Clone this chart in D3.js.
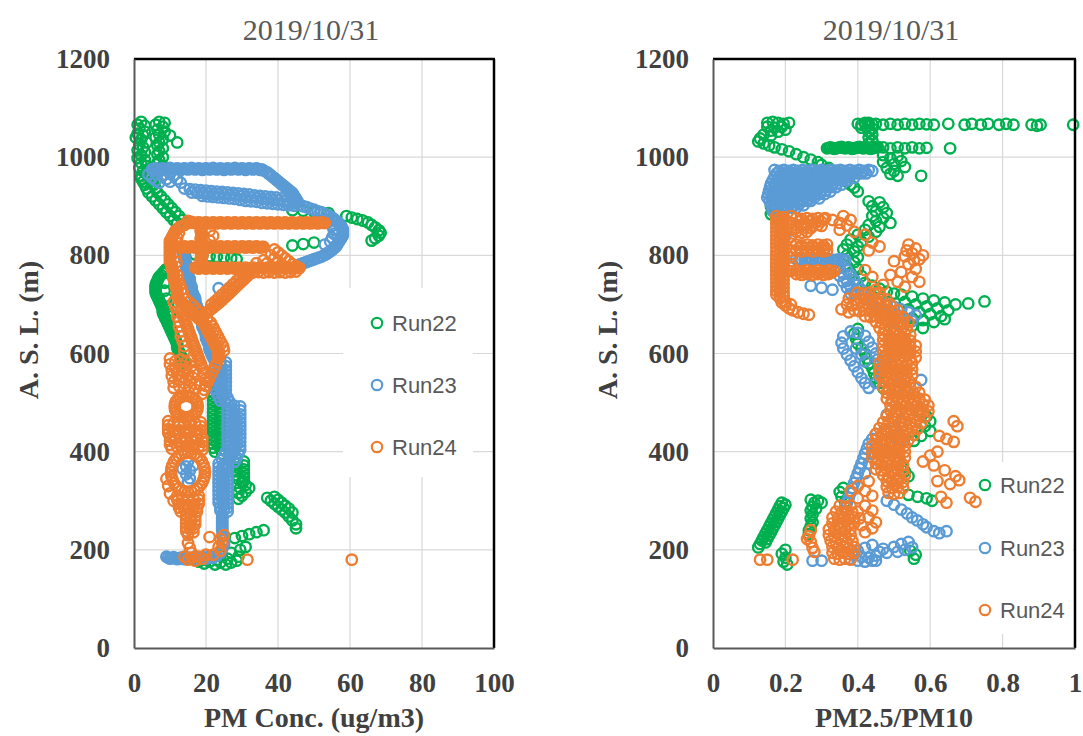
<!DOCTYPE html>
<html>
<head>
<meta charset="utf-8">
<script src="https://cdn.jsdelivr.net/npm/d3@7"></script>
<style>
  body { margin: 0; background: #fff; }
</style>
</head>
<body>
<svg id="chart"></svg>
<script>
// ---- data: [value, altitude m] ----
const chartDate = "2019/10/31";
const runNames = ["Run22", "Run23", "Run24"];
const runColors = ["#00B050", "#5B9BD5", "#ED7D31"];
const altTicks = [0, 200, 400, 600, 800, 1000, 1200];
const pmTicks = [0, 20, 40, 60, 80, 100];
const ratioTicks = [0, 0.2, 0.4, 0.6, 0.8, 1];

// PM concentration (ug/m3)
const run22Pm = [
  [2,1072],[1,1066],[3,1064],[1.5,1058],[3,1052],[1,1048],[2.5,1044],[0.5,1040],[2,1036],[3.5,1030],[1.5,1026],[2.5,1020],[1,1014],[3,1010],[2,1004],[1,998],[3,994],[2,988],[3.5,982],[1.5,978],[2.5,972],[3.5,966],[2,962],
  [7,1072],[8.5,1070],[6,1066],[8,1062],[6.5,1056],[8.5,1052],[7,1046],[6,1040],[8,1036],[7,1030],[6.5,1024],[8,1018],[7,1012],[6.5,1006],[8,1000],[7,994],[6.5,988],[8,982],[7,976],[10,1044],[12,1030],
  [2,956],[2.5,950],[3,944],[3.5,936],[4,928],[5,920],[6,912],[7,904],[8,896],[9,888],[10,880],[11,872],[12,866],
  [4.5,960],[5,952],[5.5,944],[6,936],[6.5,928],[7.5,920],[8.5,912],[9.5,904],[10.5,896],[11.5,888],[12.5,880],[13.5,872],[14.5,866],
  [44,892],[47,891],[50,889],[54,886],
  [59,880],[60.5,877],[62,874],[63.5,871],[65,867],[66,862],[67,857],[68,851],[68.5,846],[68,840],[67,835],[66,830],
  [44,820],[47,823],[50,826],
  [17,802],[19,800],[21,798],[23,797],[25,796],[27,794],[28.5,792],
  [9,772],[8,764],[7,756],[6.5,748],[6,740],[6,732],[6,724],[6.5,716],[7,708],[7.5,700],[8,692],[8,684],[8.5,676],[9,668],[9.5,660],[10,652],[10.5,644],[11,636],[11.5,628],[12,620],[12,612],[12.5,604],[13,596],[13.5,588],[14,580],
  [8.5,768],[7.5,760],[6.7,752],[6.2,744],[6,736],[6,728],[6.2,720],[6.7,712],[7.2,704],[7.7,696],[8,688],[8.2,680],[8.7,672],[9.2,664],[9.7,656],[10.2,648],[10.7,640],[11.2,632],[11.7,624],[12,616],[12.2,608],[12.7,600],[13.2,592],[13.7,584],
  [8.5,744],[8.5,728],[9,712],[9.5,696],[10,680],
  [22,520],[24,516],[22,512],[24,508],[22,504],[24,500],[22,496],[24,492],[22,488],[24,484],[22,480],[24,476],[22,472],[24,468],[22,464],[24,460],[22,456],[24,452],[22,448],[24,444],[22,440],[24,436],[22,432],[24,428],[22,424],[24,420],[22,416],[24,412],[22,408],[24,404],[22.5,400],[24.5,396],
  [28.5,384],[30.5,380],[28.5,376],[30.5,372],[28.5,368],[30.5,364],[28.5,360],[30.5,356],[28.5,352],[30.5,348],[29,344],[30.5,340],[30,338],[31,332],[32,326],[31,318],[30,310],[29,304],[29.5,326],[29,316],
  [37,306],[38,300],[39,294],[40,288],[41,282],[42,276],[43,268],[44,260],[45,252],[45,244],[39,308],[40,302],[41,296],[42,290],[43,284],[44,276],
  [28,224],[30,228],[32,232],[34,236],[36,240],
  [18,176],[19.5,172],[21,176],[22.5,170],[24,174],[25.5,170],[27,174],[28.5,178],[26,182],[23,180],[20,180],[29,186],[24,188],[27,194],[29.5,200],[31,206]
];

const run23Pm = [
  [5,975],[6,977],[7,974],[8,977],[9,975],[10,978],[11,975],[12,977],[13,974],[14,977],[15,975],[16,978],[17,975],[18,977],[19,974],[20,977],[21,975],[22,978],[23,975],[24,977],[25,974],[26,977],[27,975],[28,978],[29,975],[30,977],[31,974],[32,977],[33,975],[34,977],[35,974],[36,973],
  [5.5,976],[6.5,976],[7.5,976],[8.5,976],[9.5,976],[10.5,976],[11.5,976],[12.5,976],[13.5,976],[14.5,976],[15.5,976],[16.5,976],[17.5,976],[18.5,976],[19.5,976],[20.5,976],[21.5,976],[22.5,976],[23.5,976],[24.5,976],[25.5,976],[26.5,976],[27.5,976],[28.5,976],[29.5,976],[30.5,976],[31.5,976],[32.5,976],[33.5,976],[34.5,976],[35.5,975],
  [4,965],[5,958],[6,952],[7,948],[8,962],[9,955],[10,950],[11,962],[12,955],[6,966],[10,966],[13,948],
  [37,969],[38,963],[39,957],[40,951],[41,945],[42,939],[43,933],[44,927],[44.5,921],[45,915],[45.5,909],
  [37.5,966],[38.5,960],[39.5,954],[40.5,948],[41.5,942],[42.5,936],[43.5,930],[44.2,924],[44.7,918],[45.2,912],
  [14,936],[15.5,935],[17,934],[18.5,933],[20,932],[21.5,931],[23,930],[24.5,929],[26,928],[27.5,927],[29,926],[30.5,925],[32,924],[33.5,922],[35,921],[36.5,920],[38,919],[39.5,918],[41,916],[42.5,914],[44,912],
  [16,928],[17.5,927.5],[19,927],[20.5,926],[22,925],[23.5,924.5],[25,924],[26.5,923],[28,922],[29.5,921],[31,919],[32.5,918],[34,917],[35.5,915],[37,914],[38.5,913],[40,912],[41.5,910],[43,908],[44.5,906],
  [19,921],[20.5,920],[22,919],[23.5,918],[25,917],[26.5,916],[28,915],[29.5,913],[31,911],[32.5,910],[34,909],[35.5,907],[37,906],[38.5,905],[40,904],[41.5,903],[43,902],[44.5,901],
  [46,903],[48,898],[50,893],[52,888],[53.5,883],[55,877],[56,871],[57,865],[57.5,859],[58,853],[58,847],[58,841],[57.5,835],[57,829],[56.5,823],[56,817],[55,811],[54,806],[53,801],[51.5,796],[50,792],[48.5,788],[47,784],[45.5,780],
  [47,900],[49,895],[51,890],[52.8,885],[54.3,880],[55.5,874],[56.5,868],[57.3,862],[57.8,856],[58,850],[58,844],[57.8,838],[57.3,832],[56.8,826],[56.3,820],[55.5,814],[54.5,808],[53.5,803],[52.3,798],[50.8,794],[49.3,790],[47.8,786],[46.3,782],
  [54,868],[55,860],[55.5,852],[55.5,844],[55,836],[54.5,828],[53,822],
  [13.5,815],[13.5,807],[14,799],[14,791],[14.5,783],[14.5,775],[15,767],[15,759],[15.5,751],[15.5,743],[16,735],[16,727],[16.5,719],[17,711],[17,703],[17.5,695],[18,687],[18,679],[18.5,671],[19,663],[19,655],[19.5,647],[20,639],[20,631],[20.5,623],[21,615],[21,607],[21.5,599],[22,591],
  [13.5,811],[13.8,803],[14,795],[14.3,787],[14.5,779],[14.8,771],[15,763],[15.3,755],[15.5,747],[15.8,739],[16,731],[16.3,723],[16.8,715],[17,707],[17.3,699],[17.8,691],[18,683],[18.3,675],[18.8,667],[19,659],[19.3,651],[19.8,643],[20,635],[20.3,627],[20.8,619],[21,611],[21.3,603],[21.8,595],
  [23.5,733],[26.5,733],
  [22.5,584],[25.5,582],[22.5,576],[25.5,574],[22.5,568],[25.5,566],[22.5,560],[25.5,558],[22.5,552],[25.5,550],[22.5,544],[25.5,542],[22.5,536],[25.5,534],[22.5,528],[25.5,526],[23,520],[25.5,518],[23.5,512],[26,510],[24,504],[26.5,502],
  [24,584],[24,576],[24,568],[24,560],[24,552],[24,544],[24,536],[24,528],[24.3,520],[24.8,512],[25.2,504],
  [26,496],[27.8,494],[29.5,492],[26,488],[27.8,486],[29.5,484],[26,480],[27.8,478],[29.5,476],[26,472],[27.8,470],[29.5,468],[26,464],[27.8,462],[29.5,460],[26,456],[27.8,454],[29.5,452],[26,448],[27.8,446],[29.5,444],[26,440],[27.8,438],[29.5,436],[26,432],[27.8,430],[29.5,428],[26,424],[27.8,422],[29.5,420],[26,416],[27.8,414],[29.5,412],[26,408],[27.8,406],[29.5,404],[25.5,400],[27.5,398],[29,396],[25,392],[27,390],[28.5,388],[24.5,384],[26.5,382],[28,380],
  [23.5,376],[26,374],[23.5,368],[26,366],[23.5,360],[26,358],[23.5,352],[26,350],[23.5,344],[26,342],[23.5,336],[26,334],[23.5,328],[26,326],[23.5,320],[26,318],[23.5,312],[26,310],[23.5,304],[26,302],[23.5,296],[26,294],[24,288],[26,286],[24,280],[26,278],
  [24.7,372],[24.7,364],[24.7,356],[24.7,348],[24.7,340],[24.7,332],[24.7,324],[24.7,316],[24.7,308],[24.7,300],[25,292],[25,284],
  [24.5,272],[24.5,264],[24.5,256],[24.5,248],[24.5,240],[24.5,268],[24.5,260],[24.5,252],[24.5,244],
  [15,380],[14.5,370],[15.5,362],[14.5,354],[15.5,346],[15,338],[13.5,365],[16.5,372],
  [9,186],[10,182],[11,185],[12,181],[13,184],[14,181],[15,184],[16,182],[17,185],[18,182],[19,185],[20,182],[21,186],[22,184],[23,188],[24,194],[24.5,202],[25,210],[25,220],[24.5,228],
  [9.5,184],[10.5,183],[11.5,183],[12.5,182],[13.5,183],[14.5,182],[15.5,183],[16.5,183],[17.5,184],[18.5,183],[19.5,184],[20.5,184],[21.5,185]
];

const run24Pm = [
  [15,870],[16,868],[17,866],[18,867],[19,865],[20,867],[21,865],[22,867],[23,865],[24,867],[25,865],[26,867],[27,865],[28,867],[29,865],[30,867],[31,865],[32,867],[33,865],[34,867],[35,865],[36,867],[37,865],[38,867],[39,865],[40,867],[41,865],[42,867],[43,865],[44,867],[45,865],[46,867],[47,865],[48,867],[49,865],[50,867],[51,865],[52,867],[53,866],
  [15.5,866],[16.5,866],[17.5,866],[18.5,866],[19.5,866],[20.5,866],[21.5,866],[22.5,866],[23.5,866],[24.5,866],[25.5,866],[26.5,866],[27.5,866],[28.5,866],[29.5,866],[30.5,866],[31.5,866],[32.5,866],[33.5,866],[34.5,866],[35.5,866],[36.5,866],[37.5,866],[38.5,866],[39.5,866],[40.5,866],[41.5,866],[42.5,866],[43.5,866],[44.5,866],[45.5,866],[46.5,866],[47.5,866],[48.5,866],[49.5,866],[50.5,866],[51.5,866],[52.5,866],
  [12,818],[13,816],[14,818],[15,816],[16,818],[17,816],[18,818],[19,816],[20,818],[21,816],[22,818],[23,816],[24,818],[25,816],[26,818],[27,816],[28,818],[29,816],[30,818],[31,816],[32,818],[33,816],[34,818],[35,816],[36,817],
  [12.5,817],[13.5,817],[14.5,817],[15.5,817],[16.5,817],[17.5,817],[18.5,817],[19.5,817],[20.5,817],[21.5,817],[22.5,817],[23.5,817],[24.5,817],[25.5,817],[26.5,817],[27.5,817],[28.5,817],[29.5,817],[30.5,817],[31.5,817],[32.5,817],[33.5,817],[34.5,817],[35.5,817],
  [17,775],[18,773],[19,775],[20,773],[21,775],[22,773],[23,775],[24,773],[25,775],[26,773],[27,775],[28,773],[29,775],[30,773],[31,775],[32,773],[33,775],[34,773],[35,775],[36,773],[37,775],[38,773],[39,775],[40,773],[41,775],[42,773],[43,775],[44,773],[45,775],[46,774],
  [17.5,774],[18.5,774],[19.5,774],[20.5,774],[21.5,774],[22.5,774],[23.5,774],[24.5,774],[25.5,774],[26.5,774],[27.5,774],[28.5,774],[29.5,774],[30.5,774],[31.5,774],[32.5,774],[33.5,774],[34.5,774],[35.5,774],[36.5,774],[37.5,774],[38.5,774],[39.5,774],[40.5,774],[41.5,774],[42.5,774],[43.5,774],[44.5,774],[45.5,774],
  [30,765],[31.5,766],[33,765],[34.5,766],[36,765],[37.5,766],[39,765],[40.5,766],[42,765],[43.5,766],[45,767],
  [39,812],[40,806],[41,800],[38,800],[42,794],[39,794],[36,790],[43,788],[40,788],[37,784],[44,782],[41,782],[34,784],[45,778],
  [14,862],[12.5,856],[11.5,850],[11,843],[10.5,836],[10,829],[10,822],[10,815],[10,808],[10,801],[10,794],[10,787],[10.5,780],[10.5,773],[11,766],[11,759],[11,752],[11.5,745],[11.5,738],[12,731],[12,724],[12,717],
  [13,859],[12,853],[11.2,846],[10.7,839],[10.2,832],[10,825],[10,818],[10,811],[10,804],[10,797],[10,790],[10.2,783],[10.5,776],[10.7,769],[11,762],[11,755],[11.2,748],[11.5,741],[11.7,734],[12,727],[12,720],
  [12.5,846],[12,836],[11.8,826],[11.6,806],[11.6,796],[11.8,786],[12,760],[12.3,750],[12.8,740],[13.3,730],[13.6,722],
  [19,858],[18.5,850],[19,842],[18.5,834],[19,826],[18.5,808],[19,800],[18.5,792],[19,784],[21,850],[22,840],[21,830],
  [18.7,854],[18.7,846],[18.7,838],[18.7,830],[18.7,804],[18.7,796],[18.7,788],
  [12.5,710],[13.5,703],[14.5,696],[15.5,689],[16.5,682],[17.5,675],[18.5,668],[19.5,661],[20,654],[20.5,647],[21,640],[21.5,633],[22,626],[22.5,619],[23,612],[23.5,605],[23.5,598],[23.5,591],
  [13,706],[14,699],[15,692],[16,685],[17,678],[18,671],[19,664],[19.7,657],[20.2,650],[20.7,643],[21.2,636],[21.7,629],[22.2,622],[22.7,615],[23.2,608],[23.5,601],[23.5,594],
  [14.3,712],[15.3,705],[16.3,698],[17.3,691],[18.3,684],[19.3,677],[20.3,670],[21.3,663],[21.8,656],[22.3,649],[22.8,642],[23.3,635],[23.8,628],[24.3,621],[24.8,614],[25,606],
  [32,762],[31,755],[30,748],[29,741],[28,734],[27,727],[26,720],[25,713],[24,706],[23,700],[22,694],[21,688],[20,682],
  [31.5,758],[30.5,751],[29.5,744],[28.5,737],[27.5,730],[26.5,723],[25.5,716],[24.5,709],[23.5,703],[22.5,697],[21.5,691],[20.5,685],
  [30.5,762],[29.5,755],[28.5,748],[27.5,741],[26.5,734],[25.5,727],[24.5,720],[23.5,713],[22.5,706],[21.5,700],
  [13,690],[13.5,680],[14,670],[14.5,660],[15,650],[15.5,640],[16,630],[16.5,620],[17,610],[17.5,600],[18,590],[18.5,580],[19,570],
  [13.2,685],[13.7,675],[14.2,665],[14.7,655],[15.2,645],[15.7,635],[16.2,625],[16.7,615],[17.2,605],[17.7,595],[18.2,585],[18.7,575],
  [11,705],[11.5,695],[12,685],[12,675],[12.5,665],[12.5,655],[13,645],[13,635],[13.5,625],[14,615],[14,605],
  [23,582],[22.5,574],[22,566],[21.5,558],[21,550],[20.5,542],[20,534],[19.5,526],[19,518],
  [10,590],[13,588],[16,586],[10,578],[13,576],[16,574],[10.5,566],[13.5,564],[16.5,562],[10.5,554],[13.5,552],[16.5,550],[11,542],[14,540],[17,538],[11,530],[14,528],[17,526],
  [11.5,584],[14.5,582],[11.5,570],[14.5,568],[12,558],[15,556],[12.5,546],[15.5,544],[12.5,534],[15.5,532],[19.5,560],[20,548],[18.5,536],
  [17.7,492],[17.3,503],[16.1,511],[14.5,514],[12.9,511],[11.7,503],[11.3,492],[11.7,481],[12.9,473],[14.5,470],[16.1,473],[17.3,481],
  [17.6,498],[16.8,508],[15.3,513],[13.7,513],[12.2,508],[11.4,498],[11.4,486],[12.2,476],[13.7,471],[15.3,471],[16.8,476],[17.6,486],
  [9.5,462],[12.5,460],[15.5,462],[18.5,460],[9.5,454],[12.5,452],[15.5,454],[18.5,452],[9.5,446],[12.5,444],[15.5,446],[18.5,444],[9.5,438],[12.5,436],[15.5,438],[18.5,436],[10,430],[13,428],[16,430],[19,428],[10,422],[13,420],[16,422],[19,420],[10,414],[13,412],[16,414],[19,412],[10.5,406],[13.5,404],[16.5,406],[19,404],
  [11,458],[14,458],[17,458],[11,442],[14,442],[17,442],[11.5,426],[14.5,426],[17.5,426],[12,410],[15,410],[18,410],
  [19.7,358],[19.3,373],[18.3,386],[16.8,395],[15,398],[13.2,395],[11.7,386],[10.7,373],[10.3,358],[10.7,343],[11.7,330],[13.2,321],[15,318],[16.8,321],[18.3,330],[19.3,343],
  [19.6,366],[18.9,380],[17.6,391],[15.9,397],[14.1,397],[12.4,391],[11.1,380],[10.4,366],[10.4,350],[11.1,336],[12.4,325],[14.1,319],[15.9,319],[17.6,325],[18.9,336],[19.6,350],
  [9,345],[9.5,330],[10,315],[11,300],
  [12,310],[15,308],[18,310],[12,302],[15,300],[18,302],[12.5,294],[15,292],[18,294],[12.5,286],[15,284],[17.5,286],[13,278],[15.5,276],[17.5,278],
  [13.5,306],[16.5,306],[13.5,290],[16.5,290],[14,282],[16.5,282],
  [14.5,270],[17,268],[14.5,262],[17,260],[14.5,254],[17,252],[14.5,246],[16.5,244],[14.5,238],[16.5,236],[15,230],
  [15.7,266],[15.7,258],[15.7,250],[15.5,242],
  [14,186],[15,180],[16,184],[17,178],[18,186],[19,182],[20,190],[16,194],[15.5,204],[15,214],[24,222],[24.5,214],[23.5,206],[24,198],[22,190],[25,230],
  [21,226],[31.5,180],[60.5,180]
];

// PM2.5/PM10 ratio
const run22Ratio = [
  [0.15,1070],[0.165,1072],[0.18,1070],[0.195,1068],[0.21,1070],[0.15,1062],[0.17,1060],[0.19,1062],[0.16,1054],[0.18,1052],[0.2,1056],[0.14,1046],[0.16,1044],[0.13,1038],
  [0.125,1032],[0.14,1028],[0.155,1024],[0.17,1020],[0.19,1016],[0.21,1012],[0.23,1006],[0.25,1000],[0.27,995],[0.29,990],[0.3,984],[0.32,978],[0.34,972],[0.35,964],[0.36,958],[0.37,950],[0.38,944],[0.39,938],[0.4,930],
  [0.315,1018],[0.325,1020],[0.335,1017],[0.345,1019],[0.355,1021],[0.365,1018],[0.375,1020],[0.385,1017],[0.395,1019],[0.405,1021],[0.415,1018],[0.425,1020],[0.435,1017],[0.445,1019],[0.455,1021],
  [0.32,1019],[0.33,1018],[0.34,1018],[0.35,1020],[0.36,1019],[0.37,1019],[0.38,1018],[0.39,1018],[0.40,1020],[0.41,1019],[0.42,1019],[0.43,1018],[0.44,1018],[0.45,1020],
  [0.43,1064],[0.44,1058],[0.43,1052],[0.44,1046],[0.43,1040],[0.44,1034],[0.43,1028],[0.42,1070],[0.41,1060],
  [0.40,1068],[0.41,1066],[0.42,1068],[0.43,1070],[0.44,1067],[0.45,1068],[0.47,1066],[0.49,1068],[0.51,1066],[0.53,1068],[0.55,1066],[0.57,1068],[0.59,1067],[0.61,1066],[0.65,1068],[0.695,1066],[0.715,1068],[0.74,1066],[0.76,1068],[0.79,1066],[0.81,1068],[0.83,1066],[0.88,1066],[0.895,1064],[0.905,1066],[0.995,1066],
  [0.47,1020],[0.49,1018],[0.51,1020],[0.53,1018],[0.55,1020],[0.57,1018],[0.59,1019],[0.655,1018],
  [0.47,1004],[0.49,998],[0.51,1002],[0.47,990],[0.5,986],[0.52,992],[0.48,978],[0.5,972],[0.53,980],[0.49,966],[0.51,962],[0.575,962],
  [0.16,900],[0.17,892],[0.16,884],[0.175,876],
  [0.43,910],[0.46,908],[0.44,900],[0.47,898],[0.45,890],[0.48,886],[0.44,880],[0.47,876],[0.45,870],[0.49,866],[0.43,862],[0.46,858],[0.42,852],[0.45,848],[0.40,842],[0.43,838],[0.38,832],[0.41,828],[0.37,822],[0.40,818],[0.36,812],[0.39,808],[0.37,800],[0.40,796],[0.36,790],[0.39,786],[0.37,778],[0.40,772],[0.38,764],[0.41,758],[0.39,750],[0.42,744],[0.44,738],[0.46,732],[0.48,726],[0.50,722],
  [0.52,720],[0.55,716],[0.58,712],[0.61,708],[0.64,704],[0.67,700],[0.705,702],[0.75,706],[0.53,705],[0.56,700],[0.59,696],[0.62,692],[0.65,688],[0.54,690],[0.57,684],[0.6,680],[0.63,676],[0.55,672],[0.58,668],[0.61,664],[0.64,670],[0.52,662],[0.55,656],[0.58,652],[0.5,648],
  [0.40,650],[0.39,640],[0.395,630],[0.40,620],[0.41,610],[0.42,600],[0.425,590],[0.43,580],[0.44,570],[0.445,560],[0.45,550],[0.46,540],[0.47,530],
  [0.57,482],[0.59,472],[0.6,462],[0.585,452],[0.6,442],[0.575,432],[0.555,422],
  [0.51,380],[0.52,370],[0.53,360],[0.54,350],
  [0.54,312],[0.565,308],[0.59,305],[0.605,300],
  [0.545,198],[0.56,190],[0.555,182],
  [0.125,205],[0.13,212],[0.135,219],[0.14,226],[0.145,233],[0.15,240],[0.155,247],[0.16,254],[0.165,261],[0.17,268],[0.175,275],[0.18,282],[0.185,289],[0.19,296],
  [0.145,215],[0.15,222],[0.155,229],[0.16,236],[0.165,243],[0.17,250],[0.175,257],[0.18,264],[0.185,271],[0.19,278],[0.195,285],[0.2,292],
  [0.19,192],[0.2,184],[0.195,176],[0.205,170],[0.2,200],
  [0.27,302],[0.28,296],[0.275,288],[0.27,280],[0.275,272],[0.27,264],[0.275,256],[0.27,248],[0.265,240],[0.265,232],[0.29,300],[0.3,296],[0.285,284],
  [0.35,318],[0.36,326],[0.355,308],[0.365,298]
];

const run23Ratio = [
  [0.17,974],[0.183,972],[0.196,974],[0.209,972],[0.222,974],[0.235,972],[0.248,974],[0.261,972],[0.274,974],[0.287,972],[0.30,974],[0.313,972],[0.326,974],[0.339,972],[0.352,974],[0.365,972],[0.378,974],[0.391,972],[0.404,974],[0.417,972],[0.43,974],[0.44,972],
  [0.176,967],[0.189,967],[0.202,967],[0.215,967],[0.228,967],[0.241,967],[0.254,967],[0.267,967],[0.28,967],[0.293,967],[0.306,967],[0.319,967],[0.332,967],[0.345,967],[0.358,967],[0.371,967],[0.384,967],[0.397,967],[0.41,967],[0.423,967],
  [0.17,960],[0.183,958],[0.196,960],[0.209,958],[0.222,960],[0.235,958],[0.248,960],[0.261,958],[0.274,960],[0.287,958],[0.30,960],[0.313,958],[0.326,960],[0.339,958],[0.352,960],[0.365,958],[0.378,960],[0.39,958],
  [0.165,953],[0.178,953],[0.191,953],[0.204,953],[0.217,953],[0.23,953],[0.243,953],[0.256,953],[0.269,953],[0.282,953],[0.295,953],[0.308,953],[0.321,953],[0.334,953],[0.347,953],[0.36,953],[0.372,953],
  [0.16,946],[0.173,944],[0.186,946],[0.199,944],[0.212,946],[0.225,944],[0.238,946],[0.251,944],[0.264,946],[0.277,944],[0.29,946],[0.303,944],[0.316,946],[0.329,944],[0.342,946],[0.355,944],
  [0.158,939],[0.171,939],[0.184,939],[0.197,939],[0.21,939],[0.223,939],[0.236,939],[0.249,939],[0.262,939],[0.275,939],[0.288,939],[0.301,939],[0.314,939],[0.327,939],[0.34,939],
  [0.155,932],[0.168,930],[0.181,932],[0.194,930],[0.207,932],[0.22,930],[0.233,932],[0.246,930],[0.259,932],[0.272,930],[0.285,932],[0.298,930],[0.311,932],[0.324,930],
  [0.153,925],[0.166,925],[0.179,925],[0.192,925],[0.205,925],[0.218,925],[0.231,925],[0.244,925],[0.257,925],[0.27,925],[0.283,925],[0.296,925],[0.309,925],
  [0.15,918],[0.163,916],[0.176,918],[0.189,916],[0.202,918],[0.215,916],[0.228,918],[0.241,916],[0.254,918],[0.267,916],[0.28,918],[0.293,916],
  [0.156,911],[0.169,911],[0.182,911],[0.195,911],[0.208,911],[0.221,911],[0.234,911],[0.247,911],[0.26,911],[0.27,911],
  [0.16,904],[0.173,902],[0.186,904],[0.199,902],[0.212,904],[0.225,902],[0.238,904],[0.25,902],
  [0.165,897],[0.178,897],[0.191,897],[0.204,897],[0.217,897],[0.23,897],
  [0.165,890],[0.18,888],[0.195,890],
  [0.23,792],[0.245,790],[0.26,792],[0.275,790],[0.29,792],[0.305,790],[0.32,792],[0.335,790],[0.35,792],[0.365,790],
  [0.238,791],[0.253,791],[0.268,791],[0.283,791],[0.298,791],[0.313,791],[0.328,791],[0.343,791],[0.358,791],
  [0.19,845],[0.2,840],
  [0.33,780],[0.35,775],[0.37,770],[0.38,760],[0.39,750],[0.40,740],[0.41,730],[0.42,720],[0.43,710],[0.44,700],[0.45,692],[0.36,762],[0.37,748],[0.38,736],[0.39,724],
  [0.34,770],[0.35,758],[0.36,746],[0.37,734],[0.38,722],
  [0.27,738],[0.30,734],[0.33,730],
  [0.46,705],[0.48,700],[0.50,695],[0.52,690],[0.54,684],[0.56,678],[0.47,690],[0.49,684],[0.51,678],[0.53,672],[0.55,666],[0.5,665],[0.52,660],
  [0.38,645],[0.36,635],[0.355,622],[0.36,610],[0.37,598],[0.38,586],[0.39,574],[0.40,562],[0.41,550],[0.42,540],[0.43,530],[0.40,642],[0.42,636],[0.43,624],[0.44,612],[0.45,600],[0.455,588],[0.46,576],[0.46,564],[0.46,552],[0.45,540],[0.395,610],[0.41,598],[0.42,584],
  [0.47,585],[0.49,578],[0.5,565],[0.51,552],[0.52,540],[0.5,530],[0.53,525],[0.575,546],
  [0.48,475],[0.5,468],[0.52,460],[0.5,450],[0.48,442],[0.5,432],[0.52,425],[0.49,418],[0.51,410],[0.47,405],
  [0.45,436],[0.44,426],[0.43,416],[0.425,406],[0.42,396],[0.415,386],[0.41,376],[0.405,366],[0.40,356],[0.395,346],[0.39,336],[0.385,326],[0.38,316],[0.375,306],[0.37,296],[0.365,286],[0.44,396],[0.43,376],[0.42,356],
  [0.48,300],[0.50,292],[0.52,282],[0.536,274],[0.55,266],[0.564,260],[0.58,252],[0.59,246],[0.61,238],[0.625,234],[0.645,238],
  [0.275,178],[0.30,178],[0.38,182],[0.39,190],[0.40,178],[0.41,186],[0.42,176],[0.43,184],[0.44,178],[0.45,188],[0.46,196],[0.47,202],[0.48,194],[0.50,206],[0.52,212],[0.54,216],[0.51,196],[0.53,200],[0.55,205],[0.45,178],[0.40,198],[0.42,204],[0.44,210]
];

const run24Ratio = [
  [0.175,880],[0.195,878],[0.175,872],[0.195,870],[0.175,864],[0.195,862],[0.175,856],[0.195,854],[0.175,848],[0.195,846],[0.175,840],[0.195,838],[0.175,832],[0.195,830],[0.175,824],[0.195,822],[0.175,816],[0.195,814],[0.175,808],[0.195,806],[0.175,800],[0.195,798],[0.175,792],[0.195,790],[0.175,784],[0.195,782],[0.175,776],[0.195,774],[0.175,768],[0.195,766],[0.175,760],[0.195,758],[0.175,752],[0.195,750],[0.175,744],[0.195,742],[0.175,736],[0.195,734],[0.175,728],[0.195,726],[0.175,720],[0.195,718],
  [0.185,876],[0.185,868],[0.185,860],[0.185,852],[0.185,844],[0.185,836],[0.185,828],[0.185,820],[0.185,812],[0.185,804],[0.185,796],[0.185,788],[0.185,780],[0.185,772],[0.185,764],[0.185,756],[0.185,748],[0.185,740],[0.185,732],[0.185,724],[0.185,716],
  [0.215,880],[0.215,866],[0.215,852],[0.215,838],[0.215,824],[0.215,810],[0.215,796],[0.215,782],[0.215,768],
  [0.23,876],[0.245,874],[0.26,876],[0.275,874],[0.29,876],[0.305,874],
  [0.238,869],[0.253,867],[0.268,869],[0.283,867],[0.298,869],
  [0.23,862],[0.245,860],[0.26,862],[0.275,860],[0.29,862],[0.30,860],
  [0.23,848],[0.245,846],[0.26,848],[0.23,855],[0.25,855],[0.27,855],
  [0.23,822],[0.245,820],[0.26,822],[0.275,820],[0.29,822],[0.305,820],[0.315,822],
  [0.238,815],[0.253,815],[0.268,815],[0.283,815],[0.298,815],[0.31,815],
  [0.23,810],[0.245,808],[0.26,810],[0.275,808],[0.29,810],[0.305,808],[0.315,810],
  [0.23,770],[0.245,768],[0.26,770],[0.275,768],[0.29,770],[0.305,768],[0.32,770],[0.335,768],
  [0.238,765],[0.253,765],[0.268,765],[0.283,765],[0.298,765],[0.313,765],[0.328,765],
  [0.23,762],[0.245,760],[0.26,762],[0.275,760],[0.29,762],[0.305,760],[0.32,762],
  [0.185,712],[0.19,704],[0.2,698],[0.21,692],[0.22,688],[0.235,684],[0.25,681],[0.265,679],[0.2,706],[0.215,700],
  [0.31,876],[0.33,872],[0.35,866],[0.37,861],[0.35,852],[0.39,848],[0.42,842],[0.44,826],[0.46,818],[0.43,810],[0.36,880],[0.38,872],
  [0.54,822],[0.56,814],[0.55,804],[0.53,798],[0.57,792],[0.50,788],[0.54,782],[0.56,772],[0.52,766],[0.49,760],[0.55,756],[0.57,746],[0.51,746],[0.47,740],[0.53,736],[0.44,756],[0.42,770],[0.45,730],[0.58,800],[0.555,790],[0.535,810],
  [0.355,690],[0.375,684],
  [0.40,724],[0.415,722],[0.43,724],[0.445,722],[0.46,724],
  [0.375,712],[0.39,710],[0.405,712],[0.42,710],[0.435,712],[0.45,710],[0.465,712],[0.48,710],
  [0.37,700],[0.385,698],[0.40,700],[0.415,698],[0.43,700],[0.445,698],[0.46,700],[0.475,698],[0.49,700],
  [0.39,688],[0.405,686],[0.42,688],[0.435,686],[0.45,688],[0.465,686],[0.48,688],[0.495,686],[0.51,688],
  [0.42,676],[0.435,674],[0.45,676],[0.465,674],[0.48,676],[0.495,674],[0.51,676],[0.525,674],
  [0.45,664],[0.465,662],[0.48,664],[0.495,662],[0.51,664],[0.525,662],[0.54,664],
  [0.46,652],[0.475,650],[0.49,652],[0.505,650],[0.52,652],[0.535,650],
  [0.47,640],[0.485,638],[0.50,640],[0.515,638],[0.53,640],[0.545,638],
  [0.47,628],[0.485,626],[0.50,628],[0.515,626],[0.53,628],[0.545,626],
  [0.47,616],[0.485,614],[0.50,616],[0.515,614],[0.53,616],[0.545,614],[0.56,616],
  [0.47,604],[0.485,602],[0.50,604],[0.515,602],[0.53,604],[0.545,602],[0.56,604],
  [0.47,592],[0.485,590],[0.50,592],[0.515,590],[0.53,592],[0.545,590],[0.56,592],
  [0.46,580],[0.475,578],[0.49,580],[0.505,578],[0.52,580],[0.535,578],[0.55,580],
  [0.46,568],[0.475,566],[0.49,568],[0.505,566],[0.52,568],[0.535,566],[0.55,568],
  [0.46,556],[0.475,554],[0.49,556],[0.505,554],[0.52,556],[0.535,554],[0.55,556],
  [0.47,544],[0.485,542],[0.50,544],[0.515,542],[0.53,544],[0.545,542],
  [0.47,532],[0.485,530],[0.50,532],[0.515,530],[0.53,532],[0.545,530],[0.56,532],
  [0.48,520],[0.495,518],[0.51,520],[0.525,518],[0.54,520],[0.555,518],[0.57,520],
  [0.48,508],[0.495,506],[0.51,508],[0.525,506],[0.54,508],[0.555,506],[0.57,508],[0.585,506],
  [0.49,496],[0.505,494],[0.52,496],[0.535,494],[0.55,496],[0.565,494],[0.58,496],[0.595,494],
  [0.49,484],[0.505,482],[0.52,484],[0.535,482],[0.55,484],[0.565,482],[0.58,484],[0.595,482],
  [0.48,472],[0.495,470],[0.51,472],[0.525,470],[0.54,472],[0.555,470],[0.57,472],[0.585,470],
  [0.47,460],[0.485,458],[0.50,460],[0.515,458],[0.53,460],[0.545,458],[0.56,460],[0.575,458],
  [0.46,448],[0.475,446],[0.49,448],[0.505,446],[0.52,448],[0.535,446],[0.55,448],[0.565,446],
  [0.45,436],[0.465,434],[0.48,436],[0.495,434],[0.51,436],[0.525,434],[0.54,436],[0.555,434],
  [0.45,424],[0.465,422],[0.48,424],[0.495,422],[0.51,424],[0.525,422],[0.54,424],
  [0.44,412],[0.455,410],[0.47,412],[0.485,410],[0.50,412],[0.515,410],[0.53,412],
  [0.44,400],[0.455,398],[0.47,400],[0.485,398],[0.50,400],[0.515,398],[0.53,400],
  [0.44,388],[0.455,386],[0.47,388],[0.485,386],[0.50,388],[0.515,386],[0.53,388],
  [0.45,376],[0.465,374],[0.48,376],[0.495,374],[0.51,376],[0.525,374],
  [0.45,364],[0.465,362],[0.48,364],[0.495,362],[0.51,364],[0.525,362],
  [0.47,352],[0.485,350],[0.50,352],[0.515,350],[0.53,352],
  [0.48,340],[0.495,338],[0.51,340],[0.525,338],
  [0.48,328],[0.495,326],[0.51,328],[0.525,326],
  [0.485,316],[0.50,314],[0.515,316],
  [0.665,462],[0.675,452],[0.625,432],[0.645,426],[0.665,420],[0.61,372],[0.64,362],[0.67,350],[0.62,340],[0.655,334],[0.68,342],[0.63,308],[0.645,296],[0.71,306],[0.725,298],[0.60,392],[0.62,400],[0.58,380],
  [0.35,290],[0.365,288],[0.38,290],
  [0.34,278],[0.355,276],[0.37,278],[0.385,276],[0.40,278],
  [0.33,266],[0.345,264],[0.36,266],[0.375,264],[0.39,266],[0.405,264],
  [0.33,254],[0.345,252],[0.36,254],[0.375,252],[0.39,254],
  [0.32,242],[0.335,240],[0.35,242],[0.365,240],[0.38,242],
  [0.32,230],[0.335,228],[0.35,230],[0.365,228],[0.38,230],
  [0.325,218],[0.34,216],[0.355,218],[0.37,216],[0.385,218],
  [0.33,206],[0.345,204],[0.36,206],[0.375,204],[0.39,206],
  [0.33,194],[0.345,192],[0.36,194],[0.375,192],[0.39,194],
  [0.335,182],[0.35,180],[0.365,182],[0.38,180],
  [0.42,290],[0.44,280],[0.43,266],[0.45,256],[0.44,244],[0.42,236],[0.41,250],
  [0.40,330],[0.42,320],[0.44,310],[0.38,320],[0.40,305],[0.43,340],
  [0.27,240],[0.265,228],[0.27,216],[0.275,204],[0.28,196],[0.26,222],
  [0.13,180],[0.15,180],[0.22,180]
];

// ---- layout ----
const width = 1083;
const height = 736;
const plotTop = 59;
const plotBottom = 648;

const svg = d3.select("#chart")
  .attr("width", width)
  .attr("height", height)
  .style("background", "#fff");

function drawPanel(p) {
  const x = d3.scaleLinear().domain(p.xDomain).range([p.left, p.right]);
  const y = d3.scaleLinear().domain([0, 1200]).range([plotBottom, plotTop]);
  const g = svg.append("g");

  // gridlines
  g.append("g")
    .selectAll("line")
    .data(altTicks.slice(1, -1))
    .join("line")
    .attr("x1", p.left).attr("x2", p.right)
    .attr("y1", d => y(d)).attr("y2", d => y(d))
    .attr("stroke", "#d9d9d9").attr("stroke-width", 1.2);
  g.append("g")
    .selectAll("line")
    .data(p.xTicks.slice(1, -1))
    .join("line")
    .attr("x1", d => x(d)).attr("x2", d => x(d))
    .attr("y1", plotTop).attr("y2", plotBottom)
    .attr("stroke", "#d9d9d9").attr("stroke-width", 1.2);

  // legend background (below the markers)
  g.append("rect")
    .attr("x", p.legend.box[0]).attr("y", p.legend.box[1])
    .attr("width", p.legend.box[2]).attr("height", p.legend.box[3])
    .attr("fill", "#fff");

  // points
  p.series.forEach((data, i) => {
    g.append("g")
      .selectAll("circle")
      .data(data)
      .join("circle")
      .attr("cx", d => x(d[0]))
      .attr("cy", d => y(d[1]))
      .attr("r", 5.2)
      .attr("fill", "none")
      .attr("stroke", runColors[i])
      .attr("stroke-width", 2.4);
  });

  // frame
  g.append("line")
    .attr("x1", p.left).attr("x2", p.right + 1)
    .attr("y1", plotTop).attr("y2", plotTop)
    .attr("stroke", "#000").attr("stroke-width", 2.5);
  g.append("line")
    .attr("x1", p.right).attr("x2", p.right)
    .attr("y1", plotTop).attr("y2", plotBottom)
    .attr("stroke", "#000").attr("stroke-width", 2.5);

  const yAxis = d3.axisLeft(y).tickValues(altTicks).tickSize(0).tickPadding(24)
    .tickFormat(d3.format("d"));
  const xAxis = d3.axisBottom(x).tickValues(p.xTicks).tickSize(0).tickPadding(25)
    .tickFormat(d3.format("~g"));

  const ya = g.append("g").attr("transform", `translate(${p.left},0)`).call(yAxis);
  const xa = g.append("g").attr("transform", `translate(0,${plotBottom})`).call(xAxis);
  [ya, xa].forEach(a => {
    a.select(".domain").attr("stroke", "#595959").attr("stroke-width", 2);
    a.selectAll("text")
      .attr("fill", "#404040")
      .style("font-family", "'Liberation Serif', 'Times New Roman', serif")
      .style("font-weight", "bold")
      .style("font-size", "27px");
  });

  // titles
  g.append("text")
    .attr("x", (p.left + p.right) / 2 - 3).attr("y", 40)
    .attr("text-anchor", "middle")
    .attr("fill", "#595959")
    .style("font-family", "'Liberation Serif', serif")
    .style("font-size", "30px")
    .text(chartDate);

  g.append("text")
    .attr("x", (p.left + p.right) / 2).attr("y", 727)
    .attr("text-anchor", "middle")
    .attr("fill", "#404040")
    .style("font-family", "'Liberation Serif', serif")
    .style("font-weight", "bold")
    .style("font-size", "28px")
    .text(p.xTitle);

  g.append("text")
    .attr("transform", `translate(${p.left - 96},330) rotate(-90)`)
    .attr("text-anchor", "middle")
    .attr("fill", "#404040")
    .style("font-family", "'Liberation Serif', serif")
    .style("font-weight", "bold")
    .style("font-size", "28px")
    .text("A. S. L. (m)");

  // legend
  runNames.forEach((name, i) => {
    const ly = p.legend.ys[i];
    g.append("circle")
      .attr("cx", p.legend.x).attr("cy", ly).attr("r", 5.2)
      .attr("fill", "none").attr("stroke", runColors[i]).attr("stroke-width", 2.2);
    g.append("text")
      .attr("x", p.legend.x + 15).attr("y", ly)
      .attr("dy", "0.36em")
      .attr("fill", "#595959")
      .style("font-family", "'Liberation Sans', Arial, sans-serif")
      .style("font-size", "22px")
      .text(name);
  });
}

drawPanel({
  left: 134, right: 494,
  xDomain: [0, 100], xTicks: pmTicks,
  xTitle: "PM Conc. (ug/m3)",
  series: [run22Pm, run23Pm, run24Pm],
  legend: { x: 377, ys: [323, 385, 447], box: [343, 288, 130, 189] }
});

drawPanel({
  left: 713, right: 1075,
  xDomain: [0, 1], xTicks: ratioTicks,
  xTitle: "PM2.5/PM10",
  series: [run22Ratio, run23Ratio, run24Ratio],
  legend: { x: 985, ys: [485, 548, 610], box: [978, 462, 95, 172] }
});
</script>
</body>
</html>
